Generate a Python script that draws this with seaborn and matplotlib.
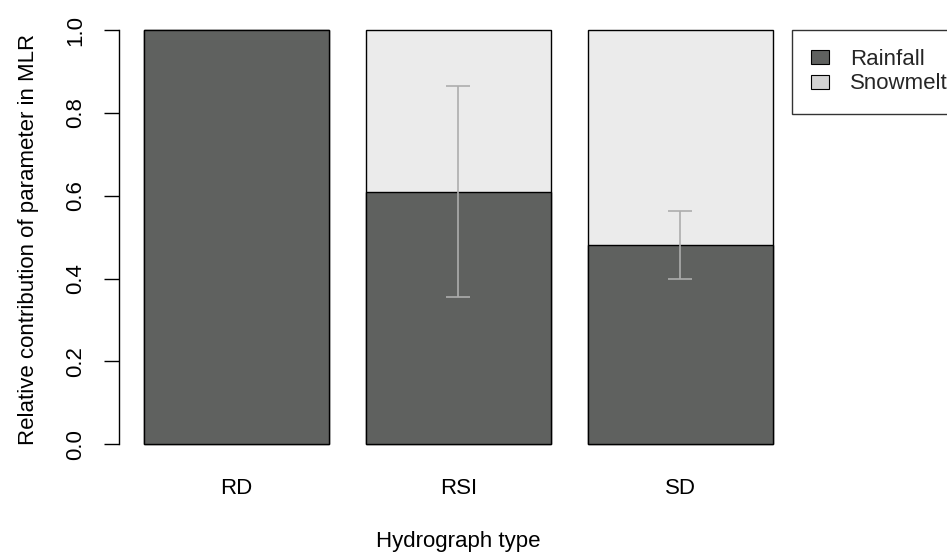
import matplotlib
matplotlib.use("Agg")
import matplotlib.pyplot as plt
from matplotlib.patches import Patch
import seaborn as sns
import pandas as pd

# Relative contribution of rainfall vs snowmelt per hydrograph type
hydro_types = ["RD", "RSI", "SD"]
rainfall = [1.00, 0.61, 0.48]
rainfall_err = [0.0, 0.255, 0.082]
total = [1.0, 1.0, 1.0]

sns.set_theme(style="white")
plt.rcParams["font.family"] = ["Liberation Sans", "DejaVu Sans"]

FS = 16

df = pd.DataFrame({"type": hydro_types, "rainfall": rainfall, "total": total})

fig = plt.figure(figsize=(9.47, 5.54), dpi=100)
ax = fig.add_axes([0.1254, 0.1606, 0.7173, 0.8154])

dark = "#5f615f"
light = "#ebebeb"
bar_w = 1 / 1.2

sns.barplot(data=df, x="type", y="total", color=light, saturation=1,
            width=bar_w, edgecolor="black", linewidth=1.0, ax=ax)
sns.barplot(data=df, x="type", y="rainfall", color=dark, saturation=1,
            width=bar_w, edgecolor="black", linewidth=1.0, ax=ax)

# error bars only where there is a spread to show
idx = [i for i, e in enumerate(rainfall_err) if e > 0]
ax.errorbar(idx, [rainfall[i] for i in idx], yerr=[rainfall_err[i] for i in idx],
            fmt="none", ecolor="#adadad", elinewidth=1.2, capsize=8.3,
            capthick=1.2, zorder=5)

ax.set_xlim(-0.53, 2.53)
ax.set_ylim(-0.0504, 1.0404)

for side in ["top", "right", "bottom"]:
    ax.spines[side].set_visible(False)
ax.spines["left"].set_bounds(0, 1)
ax.spines["left"].set_color("black")
ax.spines["left"].set_linewidth(1.0)

ax.set_yticks([0.0, 0.2, 0.4, 0.6, 0.8, 1.0])
ax.set_yticklabels(["0.0", "0.2", "0.4", "0.6", "0.8", "1.0"], rotation=90,
                   va="center", fontsize=FS)
ax.tick_params(axis="y", length=10.8, width=1.0, color="black", left=True,
               pad=12.5, labelcolor="black")
ax.tick_params(axis="x", length=0, pad=9.5, labelsize=FS, labelcolor="black")

ax.set_xlabel("Hydrograph type", fontsize=FS, labelpad=23, color="black")
ax.set_ylabel("Relative contribution of parameter in MLR", fontsize=FS,
              labelpad=19, color="black")

handles = [Patch(facecolor=dark, edgecolor="black", linewidth=0.8, label="Rainfall"),
           Patch(facecolor="#d3d3d3", edgecolor="black", linewidth=0.8, label="Snowmelt")]
leg = fig.legend(handles=handles, loc="upper left",
                 bbox_to_anchor=(792 / 947, 1 - 30 / 554), frameon=True,
                 fancybox=False, fontsize=FS, handlelength=0.81, handleheight=0.59,
                 handletextpad=0.95, borderpad=0.86, labelspacing=0.15,
                 borderaxespad=0)
leg.get_frame().set_edgecolor("black")
leg.get_frame().set_linewidth(1.0)

fig.savefig("out.png", dpi=100)
